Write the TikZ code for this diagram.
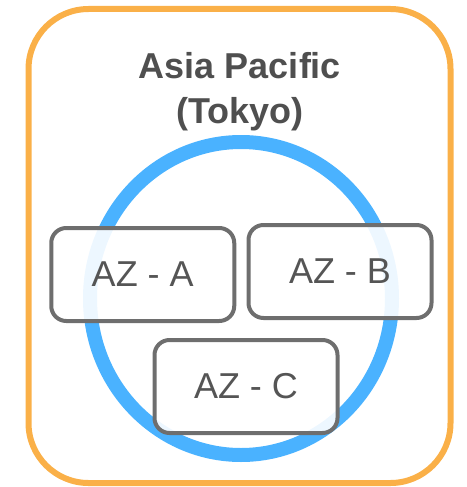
\documentclass[tikz,border=0pt]{standalone}
\usepackage{fontspec}
\setmainfont{Liberation Sans}
\definecolor{regionorange}{HTML}{FAB048}
\definecolor{zoneblue}{HTML}{4AB2FF}
\definecolor{boxgray}{HTML}{6E6E6E}
\definecolor{textgray}{HTML}{4F4F4F}
\definecolor{aztext}{HTML}{555555}
\tikzset{
  region/.style={draw=regionorange, line width=6pt, rounded corners=60pt},
  zone/.style={draw=zoneblue, line width=14pt},
  azbox/.style={draw=boxgray, line width=4pt, rounded corners=15pt,
    fill=white, fill opacity=0.9, text opacity=1, text=aztext,
    minimum width=183pt, minimum height=93pt, inner sep=0pt,
    font=\fontsize{36}{43}\selectfont},
  titletext/.style={text=textgray, align=center, inner sep=0pt,
    font=\fontsize{36}{45}\selectfont\bfseries}
}
\begin{document}
\begin{tikzpicture}[x=1pt, y=-1pt]
  \useasboundingbox (0,0) rectangle (466,487);
  \draw[region] (28.5,9) rectangle (450.5,483);
  \node[titletext] (title) at (240,91.5) {Asia Pacific\\(Tokyo)};
  \draw[zone] (241,298.5) ellipse [x radius=151, y radius=156.5];
  \node[azbox] (aza) at (142.75,274.5) {AZ - A};
  \node[azbox] (azb) at (340,271.5) {AZ - B};
  \node[azbox] (azc) at (246,386.5) {AZ - C};
\end{tikzpicture}
\end{document}
